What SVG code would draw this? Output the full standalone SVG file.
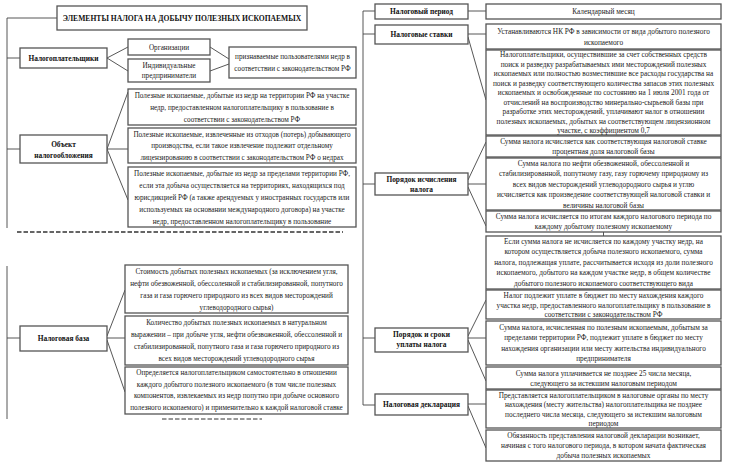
<svg xmlns="http://www.w3.org/2000/svg" width="732" height="466" viewBox="0 0 732 466">
<style>
.b{fill:#fff;stroke:#555;stroke-width:1.3}
.t{font-family:"Liberation Serif","Times New Roman",serif;font-size:7.3px;fill:#222;text-anchor:middle}
g.L text.t{font-size:7.2px}
.h{font-family:"Liberation Serif","Times New Roman",serif;font-size:7.4px;font-weight:bold;fill:#111;text-anchor:middle}
.c{stroke:#444;stroke-width:0.9;fill:none}
.d{stroke:#333;stroke-width:1.4;fill:none;stroke-dasharray:4.5 2}
</style>
<rect width="732" height="466" fill="#fff"/>
<g id="connectors">
<path class="c" d="M7,18H57M7,18V228M7,58H20M107,58L128,47M107,58L128,71M210,47L229,59M210,71L229,64"/>
<path class="c" d="M7,149H20M107,149L128,92M107,149H128M107,149L128,200"/>
<path class="c" d="M7,266V419M7,338H20M107,336L125,290M107,338H125M107,340L125,392"/>
<path class="c" d="M363,11V405M363,11H375M468,11H486M363,34H375M468,34H486M468,37L486,100"/>
<path class="c" d="M363,184H375M468,180L486,142M468,184H486M468,187L486,226M603.5,232V236"/>
<path class="c" d="M363,338H375M468,336L486,300M468,338H486M468,340L486,381"/>
<path class="c" d="M363,405H375M468,404H486M468,406L486,448"/>
</g>
<path class="d" d="M17,232H343"/>
<path class="d" d="M162,419H262" style="stroke-width:1"/>
<g id="title"><rect class="b" x="57" y="6" width="250" height="24"/><text class="h" x="182" y="21" style="font-size:7.6px">ЭЛЕМЕНТЫ НАЛОГА НА ДОБЫЧУ ПОЛЕЗНЫХ ИСКОПАЕМЫХ</text></g>
<g id="taxpayers"><rect class="b" x="20" y="48" width="87" height="20"/><text class="h" x="63.5" y="60.6">Налогоплательщики</text></g>
<g id="org" class="L"><rect class="b" x="128" y="39" width="82" height="16"/><text class="t" x="169" y="49.6">Организации</text></g>
<g id="ip" class="L"><rect class="b" x="128" y="59" width="82" height="23"/><text class="t" x="169" y="67.6">Индивидуальные</text><text class="t" x="169" y="77.6">предприниматели</text></g>
<g id="recognized" class="L"><rect class="b" x="229" y="47" width="127" height="31"/><text class="t" x="292.5" y="58.6">признаваемые пользователями недр в</text><text class="t" x="292.5" y="70.6">соответствии с законодательством РФ</text></g>
<g id="object"><rect class="b" x="20" y="135" width="87" height="28"/><text class="h" x="63.5" y="146.6">Объект</text><text class="h" x="63.5" y="157.6">налогообложения</text></g>
<g id="obj1" class="L"><rect class="b" x="128" y="89" width="228" height="36"/>
<text class="t" x="242" y="97.6">Полезные ископаемые, добытые из недр на территории РФ на участке</text>
<text class="t" x="242" y="109.6">недр, предоставленном налогоплательщику в пользование в</text>
<text class="t" x="242" y="121.6">соответствии с законодательством РФ</text></g>
<g id="obj2" class="L"><rect class="b" x="128" y="128" width="228" height="35"/>
<text class="t" x="242" y="136.6">Полезные ископаемые, извлеченные из отходов (потерь) добывающего</text>
<text class="t" x="242" y="148.1">производства, если такое извлечение подлежит отдельному</text>
<text class="t" x="242" y="159.6">лицензированию в соответствии с законодательством РФ о недрах</text></g>
<g id="obj3" class="L"><rect class="b" x="128" y="167" width="228" height="60"/>
<text class="t" x="242" y="175.6">Полезные ископаемые, добытые из недр за пределами территории РФ,</text>
<text class="t" x="242" y="187.6">если эта добыча осуществляется на территориях, находящихся под</text>
<text class="t" x="242" y="199.6">юрисдикцией РФ (а также арендуемых у иностранных государств или</text>
<text class="t" x="242" y="211.6">используемых на основании международного договора) на участке</text>
<text class="t" x="242" y="223.6">недр, предоставленном налогоплательщику в пользование</text></g>
<g id="base"><rect class="b" x="20" y="326" width="87" height="25"/><text class="h" x="63.5" y="341.1">Налоговая база</text></g>
<g id="base1" class="L"><rect class="b" x="125" y="265" width="223" height="48"/>
<text class="t" x="236.5" y="273.6">Стоимость добытых полезных ископаемых (за исключением угля,</text>
<text class="t" x="236.5" y="285.6">нефти обезвоженной, обессоленной и стабилизированной, попутного</text>
<text class="t" x="236.5" y="297.6">газа и газа горючего природного из всех видов месторождений</text>
<text class="t" x="236.5" y="309.6">углеводородного сырья)</text></g>
<g id="base2" class="L"><rect class="b" x="125" y="316" width="223" height="49"/>
<text class="t" x="236.5" y="325.1">Количество добытых полезных ископаемых в натуральном</text>
<text class="t" x="236.5" y="337.1">выражении – при добыче угля, нефти обезвоженной, обессоленной и</text>
<text class="t" x="236.5" y="349.1">стабилизированной, попутного газа и газа горючего природного из</text>
<text class="t" x="236.5" y="361.1">всех видов месторождений углеводородного сырья</text></g>
<g id="base3" class="L"><rect class="b" x="125" y="367" width="223" height="47"/>
<text class="t" x="236.5" y="375.1">Определяется налогоплательщиком самостоятельно в отношении</text>
<text class="t" x="236.5" y="386.6">каждого добытого полезного ископаемого (в том числе полезных</text>
<text class="t" x="236.5" y="398.1">компонентов, извлекаемых из недр попутно при добыче основного</text>
<text class="t" x="236.5" y="409.6">полезного ископаемого) и применительно к каждой налоговой ставке</text></g>
<g id="period"><rect class="b" x="375" y="4" width="93" height="15"/><text class="h" x="421.5" y="14.1">Налоговый период</text></g>
<g id="month"><rect class="b" x="486" y="4" width="235" height="15"/><text class="t" x="603.5" y="14.1">Календарный месяц</text></g>
<g id="rates"><rect class="b" x="375" y="25" width="93" height="19"/><text class="h" x="421.5" y="37.1">Налоговые ставки</text></g>
<g id="rate1"><rect class="b" x="486" y="24" width="235" height="25"/>
<text class="t" x="603.5" y="34.1">Устанавливаются НК РФ в зависимости от вида добытого полезного</text>
<text class="t" x="603.5" y="44.6">ископаемого</text></g>
<g id="rate2"><rect class="b" x="486" y="50" width="235" height="85"/>
<text class="t" x="603.5" y="57.1">Налогоплательщики, осуществившие за счет собственных средств</text>
<text class="t" x="603.5" y="66.6">поиск и разведку разрабатываемых ими месторождений полезных</text>
<text class="t" x="603.5" y="76.1">ископаемых или полностью возместившие все расходы государства на</text>
<text class="t" x="603.5" y="85.6">поиск и разведку соответствующего количества запасов этих полезных</text>
<text class="t" x="603.5" y="95.1">ископаемых и освобожденные по состоянию на 1 июля 2001 года от</text>
<text class="t" x="603.5" y="104.6">отчислений на воспроизводство минерально-сырьевой базы при</text>
<text class="t" x="603.5" y="114.1">разработке этих месторождений, уплачивают налог в отношении</text>
<text class="t" x="603.5" y="123.6">полезных ископаемых, добытых на соответствующем лицензионном</text>
<text class="t" x="603.5" y="133.1">участке, с коэффициентом 0,7</text></g>
<g id="calc"><rect class="b" x="375" y="173" width="93" height="22"/><text class="h" x="421.5" y="181.6">Порядок исчисления</text><text class="h" x="421.5" y="191.6">налога</text></g>
<g id="calc1"><rect class="b" x="486" y="136" width="235" height="21"/>
<text class="t" x="603.5" y="144.1">Сумма налога исчисляется как соответствующая налоговой ставке</text>
<text class="t" x="603.5" y="154.1">процентная доля налоговой базы</text></g>
<g id="calc2"><rect class="b" x="486" y="158" width="235" height="52"/>
<text class="t" x="603.5" y="165.6">Сумма налога по нефти обезвоженной, обессоленной и</text>
<text class="t" x="603.5" y="176.1">стабилизированной, попутному газу, газу горючему природному из</text>
<text class="t" x="603.5" y="186.6">всех видов месторождений углеводородного сырья и углю</text>
<text class="t" x="603.5" y="197.1">исчисляется как произведение соответствующей налоговой ставки и</text>
<text class="t" x="603.5" y="207.6">величины налоговой базы</text></g>
<g id="calc3"><rect class="b" x="486" y="211" width="235" height="21"/>
<text class="t" x="603.5" y="219.1">Сумма налога исчисляется по итогам каждого налогового периода по</text>
<text class="t" x="603.5" y="229.1">каждому добытому полезному ископаемому</text></g>
<g id="calc4"><rect class="b" x="486" y="236" width="235" height="53"/>
<text class="t" x="603.5" y="243.6">Если сумма налога не исчисляется по каждому участку недр, на</text>
<text class="t" x="603.5" y="254.1">котором осуществляется добыча полезного ископаемого, сумма</text>
<text class="t" x="603.5" y="264.6">налога, подлежащая уплате, рассчитывается исходя из доли полезного</text>
<text class="t" x="603.5" y="275.1">ископаемого, добытого на каждом участке недр, в общем количестве</text>
<text class="t" x="603.5" y="285.6">добытого полезного ископаемого соответствующего вида</text></g>
<g id="pay"><rect class="b" x="375" y="328" width="93" height="24"/><text class="h" x="421.5" y="336.6">Порядок и сроки</text><text class="h" x="421.5" y="346.6">уплаты налога</text></g>
<g id="pay1"><rect class="b" x="486" y="290" width="235" height="29"/>
<text class="t" x="603.5" y="298.1">Налог подлежит уплате в бюджет по месту нахождения каждого</text>
<text class="t" x="603.5" y="307.6">участка недр, предоставленного налогоплательщику в пользование в</text>
<text class="t" x="603.5" y="317.1">соответствии с законодательством РФ</text></g>
<g id="pay2"><rect class="b" x="486" y="321" width="235" height="44"/>
<text class="t" x="603.5" y="329.6">Сумма налога, исчисленная по полезным ископаемым, добытым за</text>
<text class="t" x="603.5" y="340.1">пределами территории РФ, подлежит уплате в бюджет по месту</text>
<text class="t" x="603.5" y="350.6">нахождения организации или месту жительства индивидуального</text>
<text class="t" x="603.5" y="361.1">предпринимателя</text></g>
<g id="pay3"><rect class="b" x="486" y="367" width="235" height="22"/>
<text class="t" x="603.5" y="375.6">Сумма налога уплачивается не позднее 25 числа месяца,</text>
<text class="t" x="603.5" y="385.6">следующего за истекшим налоговым периодом</text></g>
<g id="decl"><rect class="b" x="375" y="394" width="93" height="21"/><text class="h" x="421.5" y="407.1">Налоговая декларация</text></g>
<g id="decl1"><rect class="b" x="486" y="390" width="235" height="38"/>
<text class="t" x="603.5" y="397.6">Представляется налогоплательщиком в налоговые органы по месту</text>
<text class="t" x="603.5" y="407.1">нахождения (месту жительства) налогоплательщика не позднее</text>
<text class="t" x="603.5" y="416.6">последнего числа месяца, следующего за истекшим налоговым</text>
<text class="t" x="603.5" y="426.1">периодом</text></g>
<g id="decl2"><rect class="b" x="486" y="430" width="235" height="31"/>
<text class="t" x="603.5" y="438.1">Обязанность представления налоговой декларации возникает,</text>
<text class="t" x="603.5" y="448.1">начиная с того налогового периода, в котором начата фактическая</text>
<text class="t" x="603.5" y="458.1">добыча полезных ископаемых</text></g>
</svg>
